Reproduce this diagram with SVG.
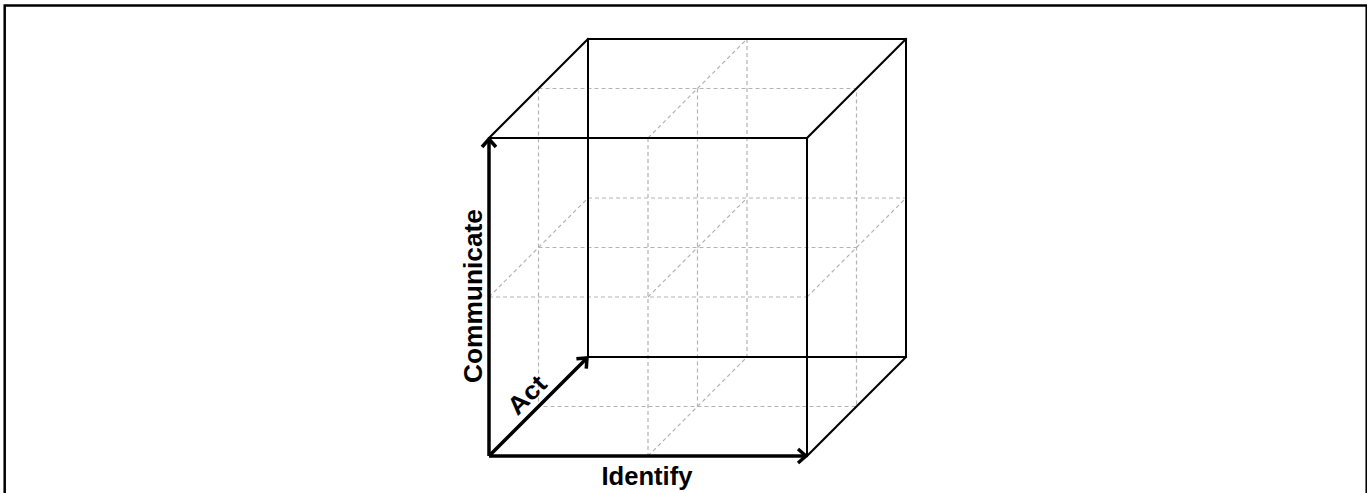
<svg xmlns="http://www.w3.org/2000/svg" width="1367" height="493" viewBox="0 0 1367 493">
<style>
.grid{stroke:#b3b3b3;stroke-width:1.2;stroke-dasharray:4 3;fill:none}
.edge{stroke:#000;stroke-width:2;fill:none;stroke-linecap:square}
.axis{stroke:#000;stroke-width:3.5;fill:none}
.lbl{font-family:"Liberation Sans",Arial,sans-serif;font-weight:bold;font-size:25px;fill:#000}
</style>
<defs>
<marker id="ah" markerUnits="userSpaceOnUse" viewBox="-12 -10 14 20" markerWidth="14" markerHeight="20" refX="0" refY="0" orient="auto">
<path d="M-8,-7 L0,0 L-8,7" fill="none" stroke="#000" stroke-width="3.5" stroke-linejoin="miter"/>
</marker>
</defs>
<rect x="4.7" y="5.5" width="1362" height="600" fill="#fff" stroke="#000" stroke-width="2.5"/>
<g id="grid">
<line class="grid" x1="489" y1="297" x2="807" y2="297"/>
<line class="grid" x1="648" y1="138" x2="648" y2="456"/>
<line class="grid" x1="588" y1="198" x2="906" y2="198"/>
<line class="grid" x1="747" y1="39" x2="747" y2="357"/>
<rect class="grid" x="538.5" y="88.5" width="318" height="318"/>
<line class="grid" x1="538.5" y1="247.5" x2="856.5" y2="247.5"/>
<line class="grid" x1="697.5" y1="88.5" x2="697.5" y2="406.5"/>
<line class="grid" x1="489" y1="297" x2="588" y2="198"/>
<line class="grid" x1="807" y1="297" x2="906" y2="198"/>
<line class="grid" x1="648" y1="138" x2="747" y2="39"/>
<line class="grid" x1="648" y1="456" x2="747" y2="357"/>
<line class="grid" x1="648" y1="297" x2="747" y2="198"/>
</g>
<g id="cube">
<rect class="edge" x="588" y="39" width="318" height="318"/>
<line class="edge" x1="489" y1="138" x2="807" y2="138"/>
<line class="edge" x1="807" y1="138" x2="807" y2="456"/>
<line class="edge" x1="489" y1="138" x2="588" y2="39"/>
<line class="edge" x1="807" y1="138" x2="906" y2="39"/>
<line class="edge" x1="807" y1="456" x2="906" y2="357"/>
</g>
<g id="connectors">
<line class="axis" x1="489" y1="456" x2="489" y2="139" marker-end="url(#ah)"/>
<line class="axis" x1="489" y1="456" x2="806" y2="456" marker-end="url(#ah)"/>
<line class="axis" x1="489" y1="456" x2="587" y2="358" marker-end="url(#ah)"/>
</g>
<g id="label-communicate">
<text class="lbl" transform="translate(482,296) rotate(-90)" text-anchor="middle" textLength="174" lengthAdjust="spacingAndGlyphs">Communicate</text>
</g>
<g id="label-identify">
<text class="lbl" x="647" y="485" text-anchor="middle" textLength="91" lengthAdjust="spacingAndGlyphs">Identify</text>
</g>
<g id="label-act">
<text class="lbl" transform="translate(533,401) rotate(-45)" text-anchor="middle" textLength="44" lengthAdjust="spacingAndGlyphs">Act</text>
</g>
</svg>
